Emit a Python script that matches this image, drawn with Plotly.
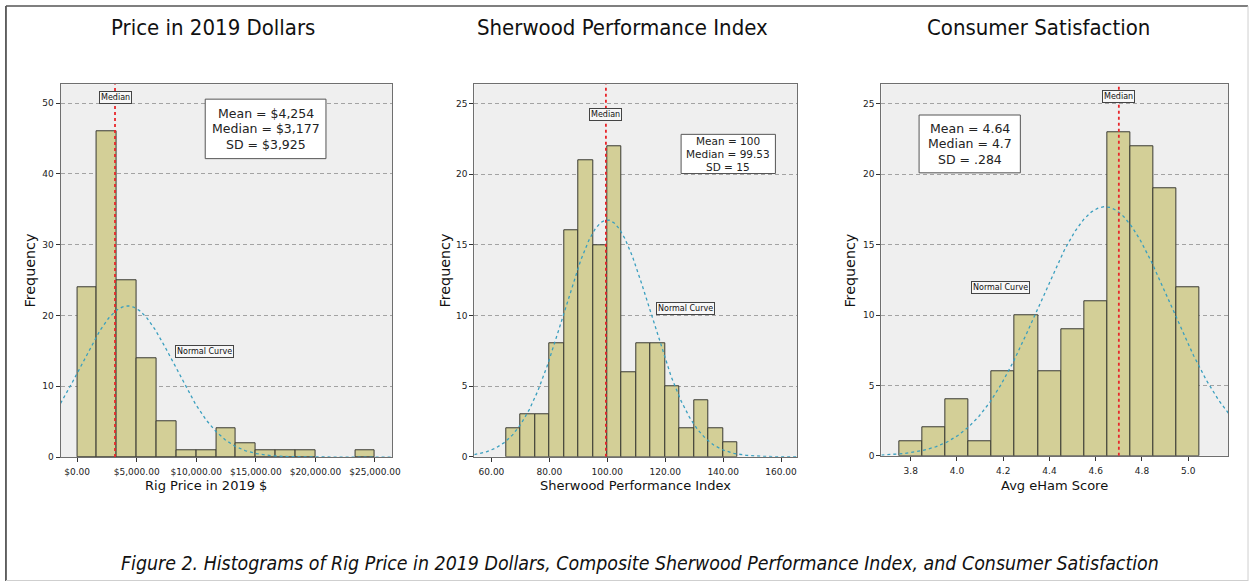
import numpy as np
import plotly.graph_objects as go

W, H = 1260, 587

# ---- data -----------------------------------------------------------------
price_bin_width = 5000 / 3
price_counts = [24, 46, 25, 14, 5, 1, 1, 4, 2, 1, 1, 1, 0, 0, 1]
price_start = 0.0
price_mean, price_median, price_sd = 4254, 3177, 3925
price_ticks = [0, 5000, 10000, 15000, 20000, 25000]
price_ticktext = ["$0.00", "$5,000.00", "$10,000.00", "$15,000.00", "$20,000.00", "$25,000.00"]
price_stats = ["Mean = $4,254", "Median = $3,177", "SD = $3,925"]

spi_bin_width = 5.0
spi_counts = [2, 3, 3, 8, 16, 21, 15, 22, 6, 8, 8, 5, 2, 4, 2, 1]
spi_start = 65.0
spi_mean, spi_median, spi_sd = 100, 99.53, 15
spi_ticks = [60, 80, 100, 120, 140, 160]
spi_ticktext = ["60.00", "80.00", "100.00", "120.00", "140.00", "160.00"]
spi_stats = ["Mean = 100", "Median = 99.53", "SD = 15"]

eham_bin_width = 0.1
eham_counts = [1, 2, 4, 1, 6, 10, 6, 9, 11, 23, 22, 19, 12]
eham_start = 3.75
eham_mean, eham_median, eham_sd = 4.64, 4.7, 0.284
eham_ticks = [3.8, 4.0, 4.2, 4.4, 4.6, 4.8, 5.0]
eham_ticktext = ["3.8", "4.0", "4.2", "4.4", "4.6", "4.8", "5.0"]
eham_stats = ["Mean = 4.64", "Median = 4.7", "SD = .284"]

titles = ["Price in 2019 Dollars", "Sherwood Performance Index", "Consumer Satisfaction"]
xtitles = ["Rig Price in 2019 $", "Sherwood Performance Index", "Avg eHam Score"]
caption = ("Figure 2. Histograms of Rig Price in 2019 Dollars, Composite Sherwood "
           "Performance Index, and Consumer Satisfaction")

# ---- styling ----------------------------------------------------------------
BAR = "#d3cf97"
BAR_LINE = "#3a3a33"
PLOT_BG = "#efefef"
CURVE = "#3a9fbf"
MEDIAN = "#e8262b"
AX_FONT = "DejaVu Sans, Verdana, sans-serif"
HEAD_FONT = "Liberation Sans Narrow, DejaVu Sans Condensed, Arial Narrow, sans-serif"


def px(x):
    return x / W


def py(y):
    return 1 - y / H


panels = [
    dict(start=price_start, bw=price_bin_width, counts=price_counts,
         mean=price_mean, median=price_median, sd=price_sd,
         ticks=price_ticks, ticktext=price_ticktext, stats=price_stats,
         xrange=[-1392, 26442], yrange=[0, 52.66], dtick=10,
         dom_x=[61, 395], dom_y=[85, 461],
         title_x=215, freq_x=30, xtitle_x=207,
         median_y=98.3, normal_xy=(206, 355),
         box=(206.7, 100, 328.3, 160), stat_size=12.5),
    dict(start=spi_start, bw=spi_bin_width, counts=spi_counts,
         mean=spi_mean, median=spi_median, sd=spi_sd,
         ticks=spi_ticks, ticktext=spi_ticktext, stats=spi_stats,
         xrange=[54.07, 165.5], yrange=[0, 26.36], dtick=5,
         dom_x=[477.7, 802.7], dom_y=[85, 460.7],
         title_x=627, freq_x=448, xtitle_x=640,
         median_y=115.3, normal_xy=(690, 311),
         box=(686, 135.5, 781, 175), stat_size=10.5),
    dict(start=eham_start, bw=eham_bin_width, counts=eham_counts,
         mean=eham_mean, median=eham_median, sd=eham_sd,
         ticks=eham_ticks, ticktext=eham_ticktext, stats=eham_stats,
         xrange=[3.673, 5.174], yrange=[0, 26.4], dtick=5,
         dom_x=[887.7, 1237.3], dom_y=[85, 459.7],
         title_x=1046, freq_x=856, xtitle_x=1062,
         median_y=97.2, normal_xy=(1007.5, 289.5),
         box=(925.7, 116, 1027.7, 174.3), stat_size=12.5),
]

fig = go.Figure()
annotations = []
shapes = []

for i, p in enumerate(panels):
    n = i + 1
    xa = "x" if n == 1 else f"x{n}"
    ya = "y" if n == 1 else f"y{n}"
    counts = np.array(p["counts"], dtype=float)
    centers = p["start"] + p["bw"] * (np.arange(len(counts)) + 0.5)
    keep = counts > 0

    fig.add_trace(go.Bar(
        x=centers[keep], y=counts[keep], width=p["bw"],
        marker=dict(color=BAR, line=dict(color=BAR_LINE, width=1)),
        xaxis=xa, yaxis=ya, showlegend=False, hoverinfo="x+y",
    ))

    # normal curve scaled to the histogram (N * bin width * pdf)
    total = counts.sum()
    xs = np.linspace(p["xrange"][0], p["xrange"][1], 400)
    pdf = np.exp(-0.5 * ((xs - p["mean"]) / p["sd"]) ** 2) / (p["sd"] * np.sqrt(2 * np.pi))
    fig.add_trace(go.Scatter(
        x=xs, y=total * p["bw"] * pdf, mode="lines",
        line=dict(color=CURVE, width=1.3, dash="dot"),
        xaxis=xa, yaxis=ya, showlegend=False, hoverinfo="skip",
    ))

    # median line
    fig.add_trace(go.Scatter(
        x=[p["median"], p["median"]], y=[0, p["yrange"][1]], mode="lines",
        line=dict(color=MEDIAN, width=1.8, dash="dot"),
        xaxis=xa, yaxis=ya, showlegend=False, hoverinfo="skip",
    ))

    axis_common = dict(
        showline=True, mirror=True, linecolor="#6f6f6f", linewidth=1,
        ticks="outside", ticklen=4, tickcolor="#333", tickwidth=1,
        tickfont=dict(family=AX_FONT, size=9, color="#222"),
        zeroline=False,
    )
    fig.update_layout(**{
        ("xaxis" if n == 1 else f"xaxis{n}"): dict(
            axis_common, domain=[px(p["dom_x"][0]), px(p["dom_x"][1])],
            range=p["xrange"], tickvals=p["ticks"], ticktext=p["ticktext"],
            showgrid=False, anchor=ya, ticklabelstandoff=2,
        ),
        ("yaxis" if n == 1 else f"yaxis{n}"): dict(
            axis_common, domain=[py(p["dom_y"][1]), py(p["dom_y"][0])],
            range=p["yrange"], dtick=p["dtick"], tick0=0,
            showgrid=True, gridcolor="#a3a3a3", gridwidth=1, griddash="4px,3px",
            anchor=xa,
        ),
    })

    # panel heading
    annotations.append(dict(
        x=px(p["title_x"]), y=py(28), xref="paper", yref="paper",
        text=titles[i], showarrow=False, xanchor="center", yanchor="middle",
        font=dict(family=HEAD_FONT, size=22, color="#111"),
    ))
    # x-axis label
    annotations.append(dict(
        x=px(p["xtitle_x"]), y=py(490), xref="paper", yref="paper",
        text=xtitles[i], showarrow=False, xanchor="center", yanchor="middle",
        font=dict(family=AX_FONT, size=13, color="#111"),
    ))
    # y-axis label
    annotations.append(dict(
        x=px(p["freq_x"]), y=py(273), xref="paper", yref="paper",
        text="Frequency", showarrow=False, textangle=-90,
        xanchor="center", yanchor="middle",
        font=dict(family=AX_FONT, size=14.3, color="#111"),
    ))
    # median tag
    annotations.append(dict(
        x=p["median"], xref=xa, y=py(p["median_y"]), yref="paper",
        text="Median", showarrow=False, xanchor="center", yanchor="middle",
        font=dict(family=AX_FONT, size=8, color="#111"),
        bgcolor="#f7f7f7", bordercolor="#444", borderwidth=1, borderpad=1,
    ))
    # normal curve tag
    annotations.append(dict(
        x=px(p["normal_xy"][0]), y=py(p["normal_xy"][1]), xref="paper", yref="paper",
        text="Normal Curve", showarrow=False, xanchor="center", yanchor="middle",
        font=dict(family=AX_FONT, size=8, color="#111"),
        bgcolor="#f7f7f7", bordercolor="#444", borderwidth=1, borderpad=1,
    ))
    # statistics box
    x0, y0, x1, y1 = p["box"]
    shapes.append(dict(
        type="rect", xref="paper", yref="paper",
        x0=px(x0), x1=px(x1), y0=py(y1), y1=py(y0),
        fillcolor="white", line=dict(color="#555", width=1), layer="above",
    ))
    step = 1.22 * p["stat_size"]
    mid = (y0 + y1) / 2
    for k, line_text in enumerate(p["stats"]):
        annotations.append(dict(
            x=px((x0 + x1) / 2), y=py(mid + (k - 1) * step), xref="paper", yref="paper",
            text=line_text, showarrow=False, xanchor="center", yanchor="middle",
            font=dict(family=AX_FONT, size=p["stat_size"], color="#222"),
        ))

# caption
annotations.append(dict(
    x=px(645), y=py(568), xref="paper", yref="paper",
    text=f"<i>{caption}</i>", showarrow=False, xanchor="center", yanchor="middle",
    font=dict(family=HEAD_FONT, size=19.4, color="#111"),
))

# outer frame
shapes += [
    dict(type="line", xref="paper", yref="paper", x0=px(6), x1=px(6), y0=py(6), y1=py(586),
         line=dict(color="#333", width=1.5)),
    dict(type="line", xref="paper", yref="paper", x0=px(6), x1=px(1257), y0=py(6), y1=py(6),
         line=dict(color="#555", width=1.5)),
    dict(type="line", xref="paper", yref="paper", x0=px(1257), x1=px(1257), y0=py(6), y1=py(586),
         line=dict(color="#cfcfcf", width=1)),
    dict(type="line", xref="paper", yref="paper", x0=px(6), x1=px(1257), y0=py(585.5), y1=py(585.5),
         line=dict(color="#cfcfcf", width=1)),
]

fig.update_layout(
    width=W, height=H,
    margin=dict(l=0, r=0, t=0, b=0),
    paper_bgcolor="white", plot_bgcolor=PLOT_BG,
    bargap=0, barmode="overlay",
    annotations=annotations, shapes=shapes,
    showlegend=False,
)

fig.write_html("out.html")
